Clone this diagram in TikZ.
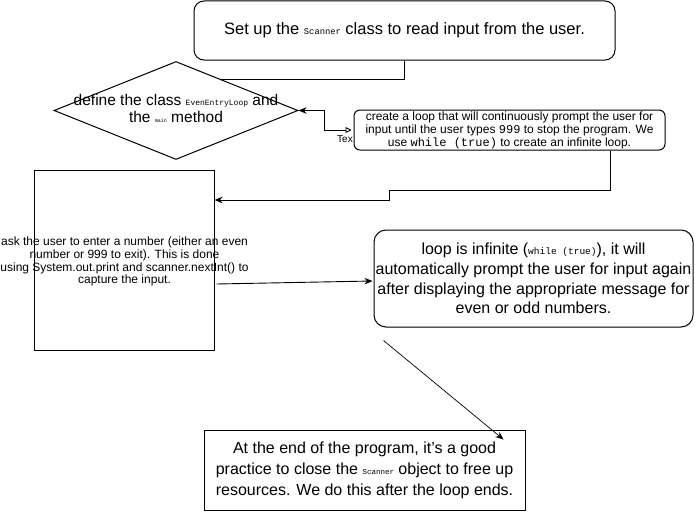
\documentclass[tikz,border=0pt]{standalone}
\usepackage{fontspec}
\setmainfont{Liberation Sans}
\newfontfamily\codefont{Liberation Mono}
\usetikzlibrary{arrows.meta,calc,shapes.geometric}
\begin{document}
\begin{tikzpicture}[x=1pt,y=-1pt,
  box/.style={draw, line width=1pt, fill=white, inner sep=0pt},
  rbox/.style={box, rounded corners=10pt},
  txt/.style={align=center, inner sep=0pt},
  conn/.style={line width=0.9pt},
  arr/.style={conn, -{Stealth[length=8pt,width=6.5pt,inset=2.5pt]}}]
\useasboundingbox (0,0) rectangle (695,519);

% top box
\node[rbox, minimum width=421pt, minimum height=59pt, font=\fontsize{16.5}{19}\selectfont] (top) at (404.5,30.5)
  {Set up the {\codefont\fontsize{8.8}{10}\selectfont Scanner} class to read input from the user.};

% diamond
\node[diamond, draw, line width=1pt, minimum width=244pt, minimum height=98pt, inner sep=0pt] (dia) at (176,110.5) {};
\node[txt, font=\fontsize{15.5}{17}\selectfont] (diatxt) at (176,108.5)
  {define the class {\codefont\fontsize{8}{9}\selectfont EvenEntryLoop} and\\the {\codefont\fontsize{5}{6}\selectfont main} method};

% label behind loop box
\node[font=\fontsize{10}{12}\selectfont, inner sep=0pt, anchor=west] (lbl) at (337,139.5) {Tex};

% loop box
\node[rbox, rounded corners=6pt, minimum width=311pt, minimum height=40pt, font=\fontsize{12}{13}\selectfont, align=center] (loop) at (509.5,130)
  {create a loop that will continuously prompt the user for\\input until the user types {\codefont\fontsize{12}{13}\selectfont 999} to stop the program. We\\use {\codefont\fontsize{12}{13}\selectfont while (true)} to create an infinite loop.};

% left box
\node[box, minimum width=180pt, minimum height=180pt] (left) at (124,260) {};
\node[txt, font=\fontsize{12}{12.9}\selectfont] (lefttxt) at (124.5,261.5)
  {ask the user to enter a number (either an even\\number or 999 to exit). This is done\\using System.out.print and scanner.nextInt() to\\capture the input.};

% right box
\node[rbox, rounded corners=12pt, minimum width=319pt, minimum height=97pt, font=\fontsize{16}{19.7}\selectfont, align=center] (right) at (533.5,278.5)
  {loop is infinite ({\codefont\fontsize{9.5}{10}\selectfont while (true)}), it will\\automatically prompt the user for input again\\after displaying the appropriate message for\\even or odd numbers.};

% bottom box
\node[box, minimum width=321pt, minimum height=80pt, font=\fontsize{16}{21}\selectfont, align=center] (bot) at (364.5,470)
  {At the end of the program, it’s a good\\practice to close the {\codefont\fontsize{7.5}{8}\selectfont Scanner} object to free up\\resources. We do this after the loop ends.};

% helper coordinates
\coordinate (bend1) at (389,190);
\coordinate (lvl) at (0,200);

% connectors
\draw[conn] (top.south) |- ($(dia.north)!0.367!(dia.east)$);
\draw[conn, {Triangle[open,length=6pt,width=6pt]}-{Stealth[length=8pt,width=6.5pt,inset=2.5pt]}]
  ([xshift=-2pt]loop.west) -- ++(-27,0) |- (dia.east);
\draw[arr] ([xshift=100.5pt]loop.south) |- (bend1) |- (left.east |- lvl);
\draw[arr] ($(left.east)+(2,24)$) -- ($(right.west)+(-1,2.5)$);
\draw[arr, line width=0.7pt] ($(right.south west)+(10,13)$) -- ($(bot.north east)+(-22,10)$);
\end{tikzpicture}
\end{document}
